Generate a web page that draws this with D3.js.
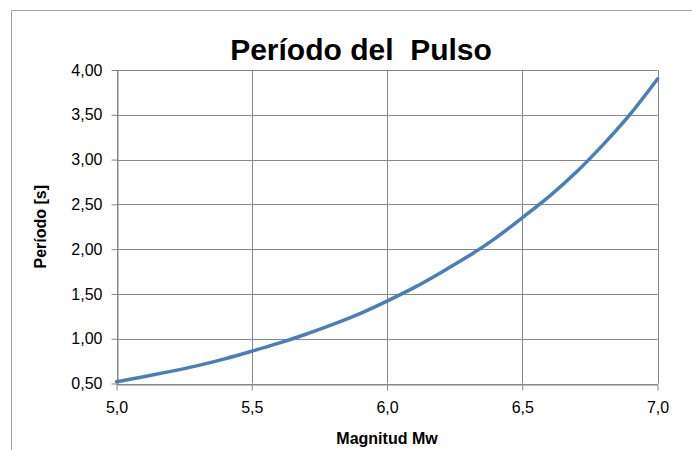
<!DOCTYPE html>
<html>
<head>
<meta charset="utf-8">
<script src="https://cdn.jsdelivr.net/npm/d3@7"></script>
<style>
  html, body { margin: 0; padding: 0; background: #fff; }
  svg { display: block; }
  text { font-family: "Liberation Sans", Arial, sans-serif; fill: #000; }
</style>
</head>
<body>
<div id="chart"></div>
<script>
// ---- data ----
const magnitudes = [5.0, 5.1, 5.2, 5.3, 5.4, 5.5, 5.6, 5.7, 5.8, 5.9, 6.0,
                    6.1, 6.2, 6.3, 6.4, 6.5, 6.6, 6.7, 6.8, 6.9, 7.0];
const periods    = [0.52, 0.575, 0.635, 0.70, 0.775, 0.86, 0.95, 1.05, 1.16, 1.28, 1.42,
                      1.57, 1.74, 1.92, 2.12, 2.35, 2.59, 2.86, 3.17, 3.51, 3.90];
const xTicks = [5.0, 5.5, 6.0, 6.5, 7.0];
const yTicks = [0.5, 1.0, 1.5, 2.0, 2.5, 3.0, 3.5, 4.0];
const titleText = "Período del  Pulso";
const xTitle = "Magnitud Mw";
const yTitle = "Período [s]";

const W = 692, H = 450;
const plot = { left: 116.5, right: 657.5, top: 70, bottom: 383.5 };

const svg = d3.select("#chart").append("svg")
  .attr("width", W).attr("height", H);

// outer chart border (only top and left visible)
svg.append("path")
  .attr("d", `M11.5,${H} V10.5 H${W}`)
  .attr("fill", "none").attr("stroke", "#a0a0a0").attr("stroke-width", 1);

const x = d3.scaleLinear().domain([5.0, 7.0]).range([plot.left, plot.right]);
const y = d3.scaleLinear().domain([0.5, 4.0]).range([plot.bottom, plot.top]);

const gridColor = "#878787";

// gridlines
svg.append("g").selectAll("line.h").data(yTicks).join("line")
  .attr("x1", plot.left).attr("x2", plot.right)
  .attr("y1", d => Math.round(y(d)) + 0.5).attr("y2", d => Math.round(y(d)) + 0.5)
  .attr("stroke", gridColor).attr("stroke-width", 1);
svg.append("g").selectAll("line.v").data(xTicks).join("line")
  .attr("y1", plot.top).attr("y2", plot.bottom)
  .attr("x1", d => Math.round(x(d)) + 0.5).attr("x2", d => Math.round(x(d)) + 0.5)
  .attr("stroke", gridColor).attr("stroke-width", 1);

// axes
const fmtY = d => d3.format(".2f")(d).replace(".", ",");
const fmtX = d => d3.format(".1f")(d).replace(".", ",");

const yAxis = svg.append("g")
  .attr("transform", `translate(${Math.round(plot.left) + 0.5},0)`)
  .call(d3.axisLeft(y).tickValues(yTicks).tickFormat(fmtY).tickSizeInner(6).tickSizeOuter(0).tickPadding(9));
const xAxis = svg.append("g")
  .attr("transform", `translate(0,${Math.round(plot.bottom) + 0.5})`)
  .call(d3.axisBottom(x).tickValues(xTicks).tickFormat(fmtX).tickSizeInner(6).tickSizeOuter(0).tickPadding(11));

[yAxis, xAxis].forEach(g => {
  g.select(".domain").attr("stroke", gridColor);
  g.selectAll(".tick line").attr("stroke", gridColor);
  g.selectAll(".tick text")
    .style("font-family", '"Liberation Sans", Arial, sans-serif')
    .style("font-size", "16px").attr("fill", "#000");
});

// curve
const pts = magnitudes.map((m, i) => [m, periods[i]]);
svg.append("path")
  .datum(pts)
  .attr("fill", "none")
  .attr("stroke", "#4a7ebb")
  .attr("stroke-width", 3.5)
  .attr("stroke-linecap", "round")
  .attr("d", d3.line().x(d => x(d[0])).y(d => y(d[1])).curve(d3.curveNatural));

// titles
svg.append("text")
  .attr("x", 361).attr("y", 60)
  .attr("text-anchor", "middle")
  .style("white-space", "pre").attr("xml:space", "preserve")
  .style("font-size", "30px").style("font-weight", "bold")
  .text(titleText);

svg.append("text")
  .attr("x", 387).attr("y", 444)
  .attr("text-anchor", "middle")
  .style("font-size", "16px").style("font-weight", "bold")
  .text(xTitle);

svg.append("text")
  .attr("transform", `translate(46,${(plot.top + plot.bottom) / 2}) rotate(-90)`)
  .attr("text-anchor", "middle")
  .style("font-size", "16px").style("font-weight", "bold")
  .text(yTitle);
</script>
</body>
</html>
